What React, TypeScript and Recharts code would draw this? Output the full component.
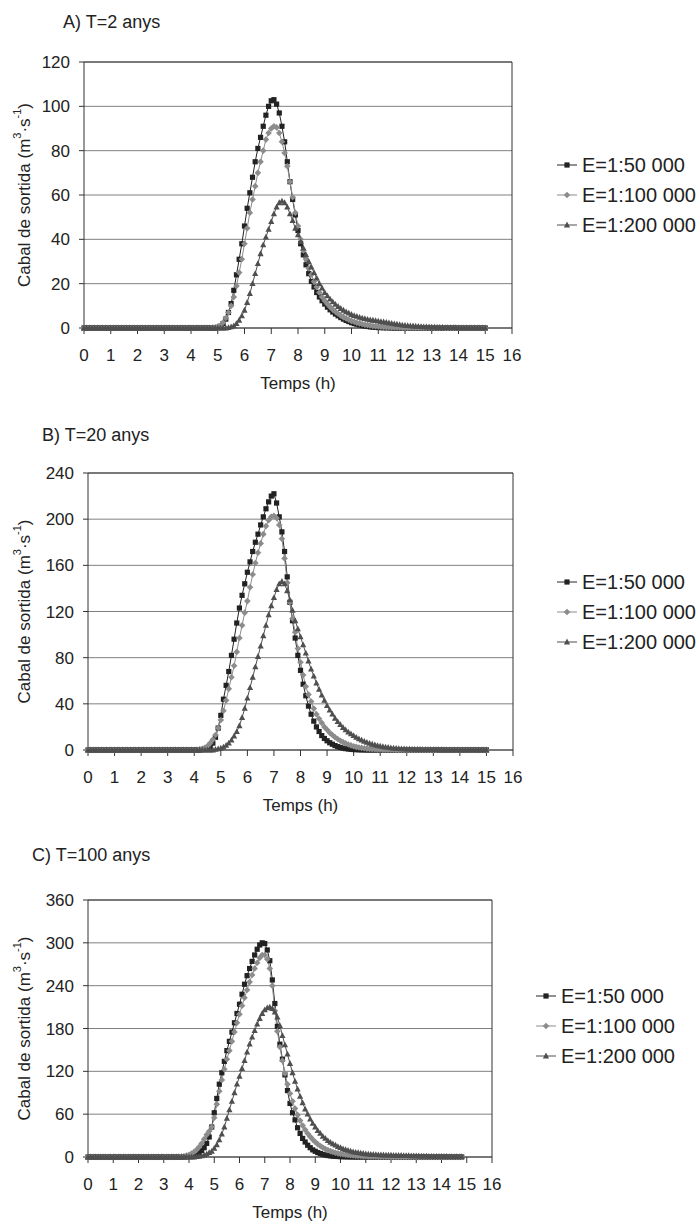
import React from "react";
import { LineChart, Line, XAxis, YAxis, CartesianGrid, ReferenceLine, Legend } from "recharts";

const FONT = '"Liberation Sans", Arial, sans-serif';

// time axis, hours (0.1 h step)
const hours = [
  0, 0.1, 0.2, 0.3, 0.4, 0.5, 0.6, 0.7, 0.8, 0.9,
  1, 1.1, 1.2, 1.3, 1.4, 1.5, 1.6, 1.7, 1.8, 1.9,
  2, 2.1, 2.2, 2.3, 2.4, 2.5, 2.6, 2.7, 2.8, 2.9,
  3, 3.1, 3.2, 3.3, 3.4, 3.5, 3.6, 3.7, 3.8, 3.9,
  4, 4.1, 4.2, 4.3, 4.4, 4.5, 4.6, 4.7, 4.8, 4.9,
  5, 5.1, 5.2, 5.3, 5.4, 5.5, 5.6, 5.7, 5.8, 5.9,
  6, 6.1, 6.2, 6.3, 6.4, 6.5, 6.6, 6.7, 6.8, 6.9,
  7, 7.1, 7.2, 7.3, 7.4, 7.5, 7.6, 7.7, 7.8, 7.9,
  8, 8.1, 8.2, 8.3, 8.4, 8.5, 8.6, 8.7, 8.8, 8.9,
  9, 9.1, 9.2, 9.3, 9.4, 9.5, 9.6, 9.7, 9.8, 9.9,
  10, 10.1, 10.2, 10.3, 10.4, 10.5, 10.6, 10.7, 10.8, 10.9,
  11, 11.1, 11.2, 11.3, 11.4, 11.5, 11.6, 11.7, 11.8, 11.9,
  12, 12.1, 12.2, 12.3, 12.4, 12.5, 12.6, 12.7, 12.8, 12.9,
  13, 13.1, 13.2, 13.3, 13.4, 13.5, 13.6, 13.7, 13.8, 13.9,
  14, 14.1, 14.2, 14.3, 14.4, 14.5, 14.6, 14.7, 14.8, 14.9,
  15,
];

const xTicks = [0, 1, 2, 3, 4, 5, 6, 7, 8, 9, 10, 11, 12, 13, 14, 15, 16];
const ticksA = [0, 20, 40, 60, 80, 100, 120];
const ticksB = [0, 40, 80, 120, 160, 200, 240];
const ticksC = [0, 60, 120, 180, 240, 300, 360];

const seriesNames = ["E=1:50 000", "E=1:100 000", "E=1:200 000"];
const colors = ["#222222", "#8c8c8c", "#4f4f4f"];

// A) T=2 anys
const a50 = [
  0, 0, 0, 0, 0, 0, 0, 0, 0, 0,
  0, 0, 0, 0, 0, 0, 0, 0, 0, 0,
  0, 0, 0, 0, 0, 0, 0, 0, 0, 0,
  0, 0, 0, 0, 0, 0, 0, 0, 0, 0,
  0, 0, 0, 0, 0, 0, 0, 0, 0, 0,
  0.3, 0.8, 2, 4, 7, 11, 17, 24, 31, 38,
  46, 54, 61, 68, 75, 81, 86, 91, 96, 100,
  102.5, 103, 101, 97, 91, 84, 75, 66, 58, 51,
  44, 38, 33, 28.5, 24.5, 21, 18.5, 16, 14, 12.3,
  10.8, 9.4, 8.2, 7.2, 6.3, 5.5, 4.7, 4, 3.4, 2.9,
  2.4, 2, 1.7, 1.4, 1.1, 0.9, 0.7, 0.5, 0.4, 0.3,
  0.2, 0.2, 0.1, 0.1, 0.1, 0, 0, 0, 0, 0,
  0, 0, 0, 0, 0, 0, 0, 0, 0, 0,
  0, 0, 0, 0, 0, 0, 0, 0, 0, 0,
  0, 0, 0, 0, 0, 0, 0, 0, 0, 0,
  0,
];
const a100 = [
  0, 0, 0, 0, 0, 0, 0, 0, 0, 0,
  0, 0, 0, 0, 0, 0, 0, 0, 0, 0,
  0, 0, 0, 0, 0, 0, 0, 0, 0, 0,
  0, 0, 0, 0, 0, 0, 0, 0, 0, 0,
  0, 0, 0, 0, 0, 0, 0, 0, 0.1, 0.2,
  0.5, 1, 2.5, 4.5, 7, 10, 14, 19, 25, 31,
  38, 45, 52, 58, 64, 70, 75, 80, 85, 88,
  90, 91, 90.5, 88, 84, 79, 73, 66, 59, 52,
  46, 40, 35, 31, 27, 24, 21, 18.5, 16, 14,
  12.3, 10.8, 9.5, 8.3, 7.3, 6.4, 5.6, 4.9, 4.3, 3.7,
  3.2, 2.8, 2.4, 2.1, 1.8, 1.5, 1.3, 1.1, 0.9, 0.8,
  0.7, 0.6, 0.5, 0.4, 0.35, 0.3, 0.25, 0.2, 0.2, 0.15,
  0.1, 0.1, 0.1, 0.1, 0.1, 0.1, 0.1, 0.1, 0.1, 0.1,
  0.1, 0.1, 0.1, 0.1, 0.1, 0, 0, 0, 0, 0,
  0, 0, 0, 0, 0, 0, 0, 0, 0, 0,
  0,
];
const a200 = [
  0, 0, 0, 0, 0, 0, 0, 0, 0, 0,
  0, 0, 0, 0, 0, 0, 0, 0, 0, 0,
  0, 0, 0, 0, 0, 0, 0, 0, 0, 0,
  0, 0, 0, 0, 0, 0, 0, 0, 0, 0,
  0, 0, 0, 0, 0, 0, 0, 0, 0, 0,
  0, 0, 0, 0, 0.2, 0.5, 1, 2, 3.5, 5.5,
  8, 11.5, 15.5, 20, 24.5, 29, 33.5, 37.5, 41, 44.5,
  48, 51.5, 54.5, 56.5, 57.2, 56.5, 54.5, 51.5, 48.5, 45,
  42, 39, 36, 33, 30, 27.5, 25, 22.5, 20, 18,
  16, 14.5, 13, 11.8, 10.7, 9.7, 8.8, 8, 7.3, 6.7,
  6.1, 5.6, 5.2, 4.8, 4.5, 4.2, 3.9, 3.7, 3.5, 3.3,
  3.1, 2.9, 2.7, 2.5, 2.3, 2.1, 1.9, 1.7, 1.5, 1.3,
  1.2, 1.1, 1, 0.9, 0.8, 0.7, 0.6, 0.55, 0.5, 0.45,
  0.4, 0.35, 0.3, 0.3, 0.25, 0.2, 0.2, 0.2, 0.15, 0.15,
  0.1, 0.1, 0.1, 0.1, 0.1, 0.1, 0.1, 0.1, 0.1, 0.1,
  0.1,
];

// B) T=20 anys
const b50 = [
  0, 0, 0, 0, 0, 0, 0, 0, 0, 0,
  0, 0, 0, 0, 0, 0, 0, 0, 0, 0,
  0, 0, 0, 0, 0, 0, 0, 0, 0, 0,
  0, 0, 0, 0, 0, 0, 0, 0, 0, 0,
  0, 0, 0, 0.5, 1, 1.5, 3, 6, 11, 19,
  30, 44, 56, 68, 82, 96, 110, 123, 134, 144,
  154, 163, 172, 180, 187, 195, 202, 209, 215, 220,
  222, 214, 202, 189, 172, 150, 128, 112, 97, 82,
  69, 57, 47, 38, 31, 25, 20, 16, 12.5, 10,
  8, 6.3, 5, 3.8, 2.9, 2.2, 1.6, 1.2, 0.9, 0.6,
  0.4, 0.3, 0.2, 0.1, 0.1, 0, 0, 0, 0, 0,
  0, 0, 0, 0, 0, 0, 0, 0, 0, 0,
  0, 0, 0, 0, 0, 0, 0, 0, 0, 0,
  0, 0, 0, 0, 0, 0, 0, 0, 0, 0,
  0, 0, 0, 0, 0, 0, 0, 0, 0, 0,
  0,
];
const b100 = [
  0, 0, 0, 0, 0, 0, 0, 0, 0, 0,
  0, 0, 0, 0, 0, 0, 0, 0, 0, 0,
  0, 0, 0, 0, 0, 0, 0, 0, 0, 0,
  0, 0, 0, 0, 0, 0, 0, 0, 0, 0,
  0, 0, 0.5, 1, 2, 3.5, 6, 9, 13, 19,
  26, 34, 43, 53, 63, 73, 85, 97, 108, 119,
  129, 141, 152, 162, 171, 179, 187, 194, 199, 202,
  203, 201, 195, 183, 166, 145, 128, 114, 102, 88,
  76, 65, 55, 48, 42, 36, 31, 27, 23.5, 20,
  17.5, 15, 13, 11, 9.5, 8, 6.8, 5.7, 4.8, 4,
  3.3, 2.7, 2.2, 1.8, 1.5, 1.2, 1, 0.8, 0.6, 0.5,
  0.4, 0.3, 0.3, 0.2, 0.2, 0.2, 0.1, 0.1, 0.1, 0.1,
  0.1, 0.1, 0.1, 0.1, 0.1, 0.1, 0.1, 0.1, 0.1, 0.1,
  0, 0, 0, 0, 0, 0, 0, 0, 0, 0,
  0, 0, 0, 0, 0, 0, 0, 0, 0, 0,
  0,
];
const b200 = [
  0, 0, 0, 0, 0, 0, 0, 0, 0, 0,
  0, 0, 0, 0, 0, 0, 0, 0, 0, 0,
  0, 0, 0, 0, 0, 0, 0, 0, 0, 0,
  0, 0, 0, 0, 0, 0, 0, 0, 0, 0,
  0, 0, 0, 0, 0, 0, 0, 0, 0.5, 1,
  1.5, 2.5, 4, 6, 8.5, 12, 16, 21, 28, 36,
  45, 54, 63, 72, 81, 90, 99, 108, 117, 125,
  132, 139, 144, 146, 144, 138, 130, 121, 112, 105,
  98, 91, 84, 77, 70, 64, 58, 52.5, 47.5, 43,
  38.5, 34.5, 31, 27.5, 24.5, 22, 19.5, 17.5, 15.5, 14,
  12.5, 11, 9.7, 8.5, 7.5, 6.6, 5.8, 5, 4.4, 3.8,
  3.3, 2.9, 2.5, 2.2, 1.9, 1.6, 1.4, 1.2, 1, 0.9,
  0.8, 0.7, 0.6, 0.55, 0.5, 0.45, 0.4, 0.35, 0.3, 0.3,
  0.25, 0.25, 0.2, 0.2, 0.2, 0.15, 0.15, 0.1, 0.1, 0.1,
  0.1, 0.1, 0.1, 0.1, 0.1, 0.1, 0.1, 0.1, 0.1, 0.1,
  0.1,
];

// C) T=100 anys (ends at 14.8 h)
const c50 = [
  0, 0, 0, 0, 0, 0, 0, 0, 0, 0,
  0, 0, 0, 0, 0, 0, 0, 0, 0, 0,
  0, 0, 0, 0, 0, 0, 0, 0, 0, 0,
  0, 0, 0, 0, 0, 0, 0, 0, 0.3, 0.5,
  1, 1.5, 2.5, 4, 6, 9, 13, 19, 28, 42,
  62, 82, 102, 118, 134, 149, 162, 175, 188, 201,
  214, 228, 242, 254, 264, 274, 283, 291, 297, 300,
  299, 290, 275, 248, 215, 183, 158, 137, 115, 93,
  75, 62, 52, 41, 33, 26, 21, 16.5, 13, 10,
  8, 6.2, 4.8, 3.7, 2.8, 2.1, 1.6, 1.2, 0.9, 0.7,
  0.5, 0.4, 0.3, 0.2, 0.1, 0.1, 0, 0, 0, 0,
  0, 0, 0, 0, 0, 0, 0, 0, 0, 0,
  0, 0, 0, 0, 0, 0, 0, 0, 0, 0,
  0, 0, 0, 0, 0, 0, 0, 0, 0, 0,
  0, 0, 0, 0, 0, 0, 0, 0, 0,
];
const c100 = [
  0, 0, 0, 0, 0, 0, 0, 0, 0, 0,
  0, 0, 0, 0, 0, 0, 0, 0, 0, 0,
  0, 0, 0, 0, 0, 0, 0, 0, 0, 0,
  0, 0, 0, 0, 0, 0, 0.3, 0.5, 1, 2,
  3, 5, 7, 10, 14, 19, 25, 31, 36, 42,
  55, 74, 92, 108, 123, 137, 149, 162, 175, 188,
  200, 212, 223, 234, 245, 255, 264, 272, 279, 283,
  283, 277, 264, 240, 205, 176, 154, 135, 117, 102,
  89, 78, 68, 59, 51, 44, 38, 33, 28.5, 24.5,
  21, 18, 15.5, 13.2, 11.3, 9.6, 8.2, 7, 6, 5.1,
  4.4, 3.8, 3.2, 2.8, 2.4, 2.1, 1.8, 1.6, 1.4, 1.2,
  1, 0.9, 0.8, 0.7, 0.6, 0.5, 0.4, 0.4, 0.3, 0.3,
  0.2, 0.2, 0.2, 0.2, 0.2, 0.2, 0.2, 0.2, 0.2, 0.2,
  0.1, 0.1, 0.1, 0.1, 0.1, 0.1, 0.1, 0.1, 0.1, 0.1,
  0.1, 0.1, 0.1, 0.1, 0.1, 0.1, 0.1, 0.1, 0.1,
];
const c200 = [
  0, 0, 0, 0, 0, 0, 0, 0, 0, 0,
  0, 0, 0, 0, 0, 0, 0, 0, 0, 0,
  0, 0, 0, 0, 0, 0, 0, 0, 0, 0,
  0, 0, 0, 0, 0, 0, 0, 0, 0, 0,
  0, 0, 0, 0.5, 1, 1.5, 2.5, 4, 6, 8,
  12, 17, 24, 32, 42, 54, 66, 78, 90, 102,
  113, 124, 135, 147, 158, 168, 177, 186, 194, 201,
  206, 209, 210, 208, 203, 196, 184, 170, 157, 144,
  131, 118, 106, 95, 85, 76, 67, 60, 53, 47,
  42, 37, 33, 29, 26, 23, 20.5, 18.5, 16.5, 14.5,
  13, 11.5, 10.3, 9.2, 8.2, 7.3, 6.6, 6, 5.4, 4.9,
  4.5, 4.1, 3.8, 3.5, 3.3, 3.1, 2.9, 2.8, 2.7, 2.6,
  2.5, 2.4, 2.3, 2.2, 2.1, 2, 1.9, 1.8, 1.7, 1.6,
  1.5, 1.4, 1.3, 1.2, 1.1, 1, 1, 0.9, 0.9, 0.8,
  0.8, 0.7, 0.7, 0.6, 0.6, 0.5, 0.5, 0.5, 0.5,
];

type Panel = {
  title: string;
  top: number;
  height: number;
  plotLeft: number;
  plotRight: number;
  plotTop: number;
  plotBottom: number;
  yTicks: number[];
  titleX: number;
  titleY: number;
  legendX: number;
  legendCy: number;
  s50: number[];
  s100: number[];
  s200: number[];
};

const panels: Panel[] = [
  { title: "A) T=2 anys", top: 0, height: 405, plotLeft: 84, plotRight: 512, plotTop: 62, plotBottom: 328,
    yTicks: ticksA, titleX: 63, titleY: 22, legendX: 557, legendCy: 195, s50: a50, s100: a100, s200: a200 },
  { title: "B) T=20 anys", top: 415, height: 405, plotLeft: 88, plotRight: 513, plotTop: 473, plotBottom: 750,
    yTicks: ticksB, titleX: 42, titleY: 435, legendX: 557, legendCy: 612, s50: b50, s100: b100, s200: b200 },
  { title: "C) T=100 anys", top: 835, height: 390, plotLeft: 88, plotRight: 492, plotTop: 900, plotBottom: 1157,
    yTicks: ticksC, titleX: 32, titleY: 855, legendX: 536, legendCy: 1026, s50: c50, s100: c100, s200: c200 },
];

function marker(i: number, cx: number, cy: number, key?: string) {
  if (i === 0)
    return <rect key={key} x={cx - 2.6} y={cy - 2.6} width={5.2} height={5.2} fill={colors[0]} />;
  if (i === 1)
    return (
      <polygon key={key} points={`${cx},${cy - 3.3} ${cx + 3.3},${cy} ${cx},${cy + 3.3} ${cx - 3.3},${cy}`}
        fill={colors[1]} />
    );
  return (
    <polygon key={key} points={`${cx},${cy - 3.4} ${cx + 3.1},${cy + 2.4} ${cx - 3.1},${cy + 2.4}`}
      fill={colors[2]} />
  );
}

const legendContent = () => (
  <div style={{ fontSize: 20, color: "#222", fontFamily: FONT }}>
    {seriesNames.map((n, i) => (
      <div key={n} style={{ height: 30, display: "flex", alignItems: "center", whiteSpace: "nowrap" }}>
        <svg width={25} height={12} style={{ flex: "none" }}>
          <line x1={0} y1={6} x2={20} y2={6} stroke={colors[i]} strokeWidth={1} />
          {marker(i, 10, 6)}
        </svg>
        <span>{n}</span>
      </div>
    ))}
  </div>
);

function PanelChart({ cfg }: { cfg: Panel }) {
  const rows = cfg.s50.map((v, i) => ({ h: hours[i], s50: v, s100: cfg.s100[i], s200: cfg.s200[i] }));
  const yAxisW = 60;
  const xAxisH = 30;
  const margin = {
    top: cfg.plotTop - cfg.top,
    left: cfg.plotLeft - yAxisW,
    right: 698 - cfg.plotRight,
    bottom: cfg.top + cfg.height - cfg.plotBottom - xAxisH,
  };
  const yMax = cfg.yTicks[cfg.yTicks.length - 1];
  const midX = (cfg.plotLeft + cfg.plotRight) / 2;
  const midY = (cfg.plotTop + cfg.plotBottom) / 2 - cfg.top;
  const tick = { fill: "#222", fontSize: 17, fontFamily: FONT };

  return (
    <div style={{ position: "absolute", left: 0, top: cfg.top, width: 698, height: cfg.height }}>
      <div style={{ position: "absolute", left: cfg.titleX, top: cfg.titleY - cfg.top - 11, fontSize: 18,
        lineHeight: "22px", color: "#222", whiteSpace: "nowrap" }}>
        {cfg.title}
      </div>
      <LineChart width={698} height={cfg.height} data={rows} margin={margin}>
        <CartesianGrid vertical={false} stroke="#808080" strokeWidth={1} />
        <XAxis dataKey="h" type="number" domain={[0, 16]} ticks={xTicks} interval={0}
          tick={tick} tickSize={6} tickMargin={15} height={xAxisH}
          axisLine={{ stroke: "#333" }} tickLine={{ stroke: "#333" }}
          label={{
            content: () => (
              <text x={midX} y={cfg.plotBottom - cfg.top + 55} textAnchor="middle" dominantBaseline="central"
                fill="#222" fontSize={17} fontFamily={FONT}>
                Temps (h)
              </text>
            ),
          }} />
        <YAxis type="number" domain={[0, yMax]} ticks={cfg.yTicks} interval={0} width={yAxisW}
          tick={tick} tickSize={5} tickMargin={9}
          axisLine={{ stroke: "#333" }} tickLine={{ stroke: "#333" }}
          label={{
            content: () => (
              <text x={24} y={midY} transform={`rotate(-90 24 ${midY})`} textAnchor="middle"
                dominantBaseline="central" fill="#222" fontSize={17} fontFamily={FONT}>
                Cabal de sortida (m<tspan dy={-7} fontSize={11}>3</tspan>
                <tspan dy={7}>·s</tspan><tspan dy={-7} fontSize={11}>-1</tspan><tspan dy={7}>)</tspan>
              </text>
            ),
          }} />
        <ReferenceLine y={yMax} stroke="#333" strokeWidth={1} />
        <ReferenceLine x={16} stroke="#333" strokeWidth={1} />
        <Legend layout="horizontal" verticalAlign="middle" align="center" content={legendContent}
          wrapperStyle={{ left: cfg.legendX, top: cfg.legendCy - cfg.top - 45, width: 698 - cfg.legendX, height: 90 }} />
        {(["s50", "s100", "s200"] as const).map((k, i) => (
          <Line key={k} dataKey={k} name={seriesNames[i]} type="linear" stroke={colors[i]} strokeWidth={1}
            isAnimationActive={false} activeDot={false}
            dot={(p: any) => marker(i, p.cx, p.cy, `${k}-${p.index}`)} />
        ))}
      </LineChart>
    </div>
  );
}

export default function App() {
  return (
    <div style={{ position: "absolute", left: 0, top: 0, width: 698, height: 1225, overflow: "hidden",
      background: "#fff", fontFamily: FONT }}>
      {panels.map((p) => (
        <PanelChart key={p.title} cfg={p} />
      ))}
    </div>
  );
}
